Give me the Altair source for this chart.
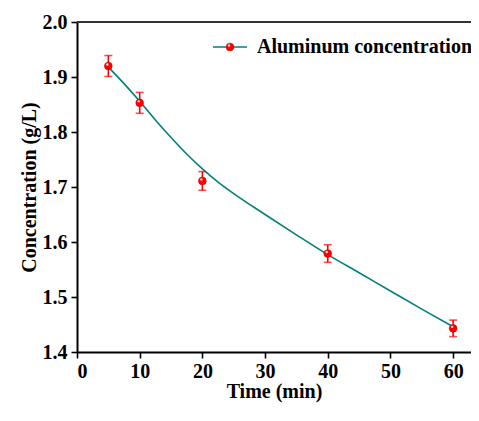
import altair as alt
import pandas as pd

# ---- data ----
time_min = [5, 10, 20, 40, 60]
conc = [1.920, 1.853, 1.711, 1.579, 1.443]
err = [0.019, 0.019, 0.017, 0.016, 0.015]

fit_t = [5, 7.5, 10, 12.5, 15, 17.5, 20, 22.5, 25, 30, 35, 40, 45, 50, 55, 60]
fit_c = [1.918, 1.888, 1.856, 1.822, 1.790, 1.760, 1.733, 1.709, 1.688,
         1.650, 1.613, 1.577, 1.544, 1.511, 1.478, 1.446]

x_ticks = [0, 10, 20, 30, 40, 50, 60]
y_ticks = [1.4, 1.5, 1.6, 1.7, 1.8, 1.9, 2.0]
legend_label = "Aluminum concentration"

FONT = "Liberation Serif"
TEAL = "#008080"
RED = "#ff0000"

pts = pd.DataFrame({
    "t": time_min,
    "c": conc,
    "lo": [c - e for c, e in zip(conc, err)],
    "hi": [c + e for c, e in zip(conc, err)],
})
fit = pd.DataFrame({"t": fit_t, "c": fit_c})

xs = alt.Scale(domain=[0, 62.85], nice=False, zero=False)
ys = alt.Scale(domain=[1.4, 2.0], nice=False, zero=False)

axis_style = dict(
    grid=False,
    labelFont=FONT, labelFontSize=20, labelFontWeight="bold", labelColor="black",
    titleFont=FONT, titleFontSize=20, titleFontWeight="bold", titleColor="black",
    domainColor="black", domainWidth=2, tickColor="black", tickWidth=1.6,
    tickSize=6,
)
x_axis = alt.Axis(values=x_ticks, title="Time (min)", format="d",
                  labelPadding=3, titlePadding=0, **axis_style)
y_axis = alt.Axis(values=y_ticks, title="Concentration (g/L)", format=".1f",
                  labelPadding=4, titlePadding=3, **axis_style)

X = alt.X("t:Q", scale=xs, axis=x_axis)
Y = alt.Y("c:Q", scale=ys, axis=y_axis)

line = alt.Chart(fit).mark_line(color=TEAL, strokeWidth=1.6,
                                interpolate="monotone").encode(x=X, y=Y)

bars = alt.Chart(pts).mark_rule(color=RED, strokeWidth=1.6).encode(
    x=alt.X("t:Q", scale=xs), y=alt.Y("lo:Q", scale=ys), y2="hi:Q")
cap_lo = alt.Chart(pts).mark_tick(color=RED, orient="horizontal", size=8,
                                  thickness=1.6).encode(
    x=alt.X("t:Q", scale=xs), y=alt.Y("lo:Q", scale=ys))
cap_hi = alt.Chart(pts).mark_tick(color=RED, orient="horizontal", size=8,
                                  thickness=1.6).encode(
    x=alt.X("t:Q", scale=xs), y=alt.Y("hi:Q", scale=ys))

dots = alt.Chart(pts).mark_circle(color=RED, size=60, opacity=1,
                                  stroke="#d00000", strokeWidth=0.6).encode(
    x=alt.X("t:Q", scale=xs), y=alt.Y("c:Q", scale=ys))
shine = alt.Chart(pts).mark_circle(color="#ffd6d6", size=6, opacity=1,
                                   xOffset=-1, yOffset=-1.5).encode(
    x=alt.X("t:Q", scale=xs), y=alt.Y("c:Q", scale=ys))

top = alt.Chart(pts).mark_rule(color="#333333", strokeWidth=2).encode(
    y=alt.datum(2.0))

# manual legend
leg_df = pd.DataFrame({"label": [legend_label]})
leg_line = alt.Chart(leg_df).mark_rule(color=TEAL, strokeWidth=1.6).encode(
    x=alt.value(136), x2=alt.value(170), y=alt.value(25))
leg_dot = alt.Chart(leg_df).mark_circle(color=RED, size=60, opacity=1,
                                        stroke="#d00000", strokeWidth=0.6).encode(
    x=alt.value(153), y=alt.value(25))
leg_shine = alt.Chart(leg_df).mark_circle(color="#ffd6d6", size=6, opacity=1,
                                          xOffset=-1, yOffset=-1.5).encode(
    x=alt.value(153), y=alt.value(25))
leg_text = alt.Chart(leg_df).mark_text(font=FONT, fontSize=20, fontWeight="bold",
                                       align="left", baseline="middle",
                                       color="black").encode(
    x=alt.value(180), y=alt.value(25), text="label:N")

chart = alt.layer(
    line, bars, cap_lo, cap_hi, dots, shine, top,
    leg_line, leg_dot, leg_shine, leg_text
).properties(
    width=394, height=330,
    autosize=alt.AutoSizeParams(type="none"),
    padding={"left": 69, "top": 14, "right": 0, "bottom": 52},
    background="white",
).configure_view(strokeWidth=0, stroke="transparent")

chart.save("out.html", embed_options={"renderer": "svg", "actions": False})
